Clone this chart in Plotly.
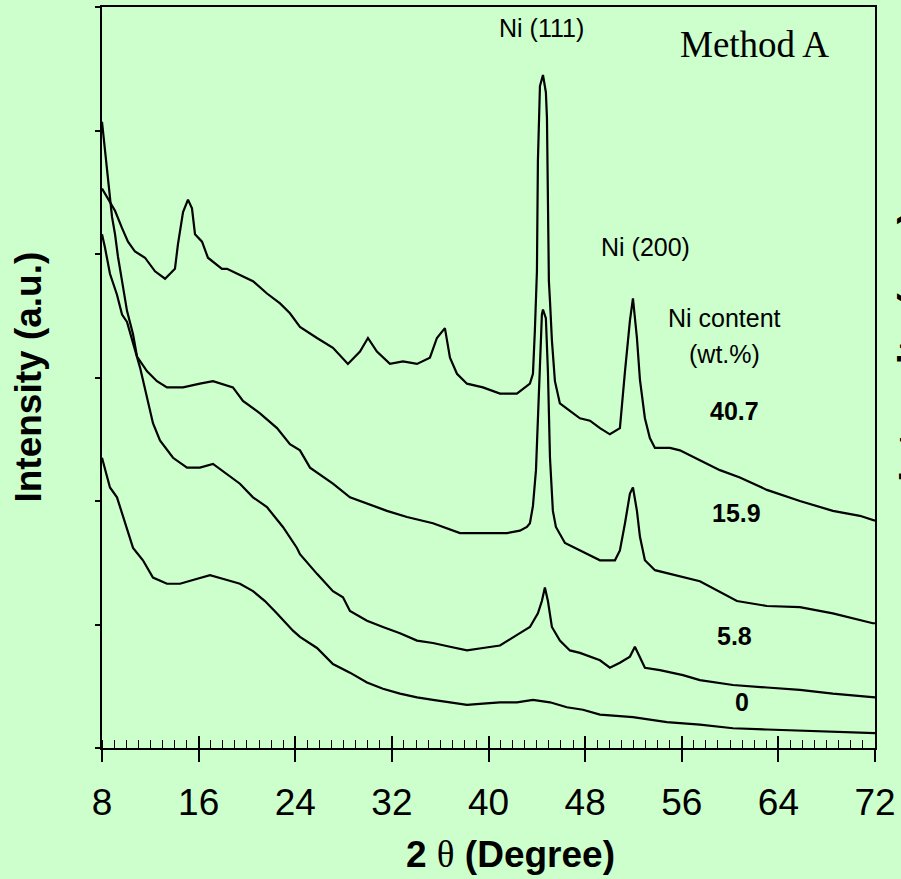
import plotly.graph_objects as go

# XRD patterns of Ni-loaded samples (Method A); intensity in arbitrary units
two_theta_407 = [8.00, 8.50, 9.08, 9.66, 10.15, 10.73, 11.56, 12.39, 13.22, 14.04, 14.29, 14.71, 15.12, 15.45,
                 15.70, 16.28, 16.77, 17.93, 18.35, 19.42, 20.50, 21.66, 22.74, 23.56, 24.39, 25.80, 27.12,
                 28.36, 29.36, 30.02, 30.76, 31.84, 32.92, 34.08, 35.15, 35.73, 36.39, 36.81, 37.39, 38.22,
                 39.54, 40.95, 42.35, 43.43, 43.68, 43.84, 44.01, 44.09, 44.26, 44.51, 44.75, 44.84, 44.92,
                 45.00, 45.09, 45.25, 45.50, 45.91, 46.74, 47.57, 48.40, 49.23, 50.05, 50.88, 51.30, 51.71,
                 51.96, 52.29, 52.54, 52.95, 53.36, 53.78, 55.02, 55.85, 57.50, 59.16, 60.81, 63.05, 65.78,
                 68.51, 70.75, 72.00]
intensity_407 = [453, 445, 435, 421, 410, 402, 397, 386, 380, 388, 408, 434, 444, 437,
                 416, 410, 397, 388, 388, 383, 378, 368, 360, 352, 341, 332, 324,
                 311, 321, 332, 321, 311, 313, 311, 316, 332, 340, 316, 303, 295,
                 292, 287, 287, 295, 303, 338, 386, 475, 536, 545, 531, 510, 429,
                 378, 362, 330, 297, 279, 273, 267, 265, 259, 254, 259, 305, 346,
                 364, 332, 298, 267, 251, 243, 243, 241, 233, 225, 219, 209, 200,
                 192, 188, 184]

two_theta_159 = [8.00, 8.08, 8.25, 8.41, 8.66, 8.83, 9.08, 9.32, 9.66, 10.07, 10.57, 10.90, 11.73, 12.55,
                 13.38, 14.71, 16.11, 17.19, 18.84, 19.67, 21.08, 22.49, 23.56, 24.39, 25.22, 27.12, 28.53,
                 29.94, 31.59, 33.25, 35.40, 37.64, 39.54, 41.53, 42.60, 43.18, 43.43, 43.68, 43.93, 44.09,
                 44.26, 44.42, 44.51, 44.75, 44.92, 45.09, 45.33, 45.58, 46.33, 47.57, 49.23, 50.47, 50.88,
                 51.30, 51.71, 51.96, 52.29, 52.54, 52.95, 53.78, 55.02, 57.50, 60.57, 63.05, 65.78, 68.51,
                 71.82, 72.00]
intensity_159 = [507, 499, 483, 467, 443, 430, 416, 398, 378, 354, 335, 317, 305, 297,
                 292, 292, 295, 297, 292, 281, 271, 259, 246, 241, 227, 214, 203,
                 198, 192, 187, 182, 174, 174, 174, 176, 179, 182, 196, 225, 271,
                 311, 351, 355, 348, 305, 235, 192, 179, 166, 160, 152, 152, 160,
                 182, 206, 211, 192, 171, 152, 144, 141, 135, 119, 115, 114, 109,
                 101, 101]

two_theta_58 = [8.00, 8.25, 8.66, 9.24, 9.66, 10.07, 11.15, 11.73, 12.22, 12.80, 13.88, 15.04, 16.11, 17.19,
                18.35, 19.42, 20.50, 21.66, 22.98, 24.14, 24.39, 25.80, 27.12, 27.95, 28.53, 29.94, 31.26,
                32.67, 34.08, 35.40, 36.81, 38.22, 39.54, 40.95, 42.60, 43.43, 44.09, 44.42, 44.67, 44.92,
                45.25, 45.91, 46.74, 47.57, 49.23, 50.05, 50.88, 51.71, 52.12, 52.54, 52.95, 54.19, 56.10,
                57.50, 60.24, 63.05, 65.78, 68.51, 71.82, 72.00]
intensity_58 = [416, 405, 384, 367, 351, 345, 308, 284, 263, 249, 235, 227, 227, 230,
                222, 214, 203, 195, 179, 162, 157, 141, 127, 122, 111, 103, 98,
                93, 87, 85, 82, 79, 81, 83, 93, 98, 109, 119, 130, 119,
                98, 87, 79, 77, 71, 65, 69, 74, 82, 74, 65, 63, 59,
                55, 51, 49, 47, 44, 41, 41]

two_theta_0 = [8.00, 8.66, 9.24, 9.74, 10.57, 11.39, 12.22, 13.38, 14.46, 15.53, 16.94, 18.35, 19.42, 20.50,
               21.49, 22.49, 23.81, 24.39, 25.80, 27.12, 28.53, 29.94, 31.26, 32.67, 34.08, 35.40, 36.81,
               38.22, 39.54, 40.95, 42.35, 43.68, 45.09, 46.49, 47.82, 49.23, 51.96, 54.77, 57.50, 60.24,
               63.05, 65.78, 68.51, 71.82, 72.00]
intensity_0 = [235, 211, 203, 187, 162, 152, 138, 133, 133, 136, 140, 136, 133, 127,
               119, 109, 95, 90, 81, 68, 61, 53, 48, 44, 41, 39, 37,
               35, 36, 37, 37, 39, 37, 33, 31, 27, 25, 21, 19, 16,
               15, 14, 13, 12, 12]

series = [
    (two_theta_407, intensity_407, "40.7"),
    (two_theta_159, intensity_159, "15.9"),
    (two_theta_58, intensity_58, "5.8"),
    (two_theta_0, intensity_0, "0"),
]

x_ticks = [8, 16, 24, 32, 40, 48, 56, 64, 72]
y_ticks = [0, 100, 200, 300, 400, 500, 600]

# content labels placed beside each pattern: (2θ, intensity, text)
content_labels = [(60.4, 273, "40.7"), (60.57, 190, "15.9"), (60.4, 91, "5.8"), (60.98, 37, "0")]
peak_labels = [(44.42, 583, "Ni (111)"), (53.03, 406, "Ni (200)")]

BG = "#CCFFCC"
SANS = "Liberation Sans, Arial, sans-serif"
SERIF = "Liberation Serif, Times New Roman, serif"

fig = go.Figure()
for xs, ys, name in series:
    fig.add_trace(go.Scatter(x=xs, y=ys, mode="lines", name=name,
                             line=dict(color="black", width=2.2), showlegend=False))

fig.update_layout(
    width=901, height=879,
    margin=dict(l=102, r=26, t=5, b=131),
    paper_bgcolor=BG, plot_bgcolor=BG,
    xaxis=dict(range=[8, 72], tickmode="array", tickvals=x_ticks, ticktext=[str(v) for v in x_ticks],
               ticks="outside", ticklen=12, tickwidth=1.5, tickcolor="black", ticklabelstandoff=9,
               minor=dict(ticks="inside", dtick=1, ticklen=8, tickwidth=1.2, tickcolor="black"),
               showline=True, linecolor="black", linewidth=2, mirror=True,
               showgrid=False, zeroline=False,
               tickfont=dict(family=SANS, size=37, color="black")),
    xaxis2=dict(range=[8, 72], overlaying="x", anchor="y", side="bottom",
                tickmode="array", tickvals=x_ticks, ticks="inside", ticklen=12, tickwidth=1.5,
                tickcolor="black", showticklabels=False, showline=False, showgrid=False, zeroline=False),
    yaxis=dict(range=[0, 600], tickmode="array", tickvals=y_ticks, showticklabels=False,
               ticks="outside", ticklen=5, tickwidth=1.5, tickcolor="black",
               showline=True, linecolor="black", linewidth=2, mirror=True,
               showgrid=False, zeroline=False),
)
# invisible trace so the overlaid tick axis is drawn
fig.add_trace(go.Scatter(x=[8, 72], y=[0, 0], xaxis="x2", mode="lines",
                         line=dict(width=0), hoverinfo="skip", showlegend=False))

for x, y, t in content_labels:
    fig.add_annotation(x=x, y=y, xref="x", yref="y", text=f"<b>{t}</b>", showarrow=False,
                       font=dict(family=SANS, size=25, color="black"))
for x, y, t in peak_labels:
    fig.add_annotation(x=x, y=y, xref="x", yref="y", text=t, showarrow=False,
                       font=dict(family=SANS, size=25, color="black"))
fig.add_annotation(x=59.57, y=348, xref="x", yref="y", text="Ni content", showarrow=False,
                   font=dict(family=SANS, size=25, color="black"))
fig.add_annotation(x=59.57, y=319, xref="x", yref="y", text="(wt.%)", showarrow=False,
                   font=dict(family=SANS, size=25, color="black"))
fig.add_annotation(x=62.06, y=570, xref="x", yref="y", text="Method A", showarrow=False,
                   font=dict(family=SERIF, size=37, color="black"))

# axis titles
fig.add_annotation(x=-0.0957, y=0.5, xref="paper", yref="paper", xanchor="center", yanchor="middle",
                   text="<b>Intensity (a.u.)</b>", textangle=-90, showarrow=False,
                   font=dict(family=SANS, size=37, color="black"))
fig.add_annotation(x=0.528, y=-0.144, xref="paper", yref="paper", xanchor="center", yanchor="middle",
                   text="<b>2 </b><span style='font-family:Liberation Serif'>θ</span><b> (Degree)</b>",
                   showarrow=False, font=dict(family=SANS, size=37, color="black"))
# title of the neighbouring panel, running off the right edge
fig.add_annotation(x=1.05, y=0.542, xref="paper", yref="paper", xanchor="center", yanchor="middle",
                   text="<b>Intensity (a.u.)</b>", textangle=-90, showarrow=False,
                   font=dict(family=SANS, size=40, color="black"))

fig.write_html("out.html")
